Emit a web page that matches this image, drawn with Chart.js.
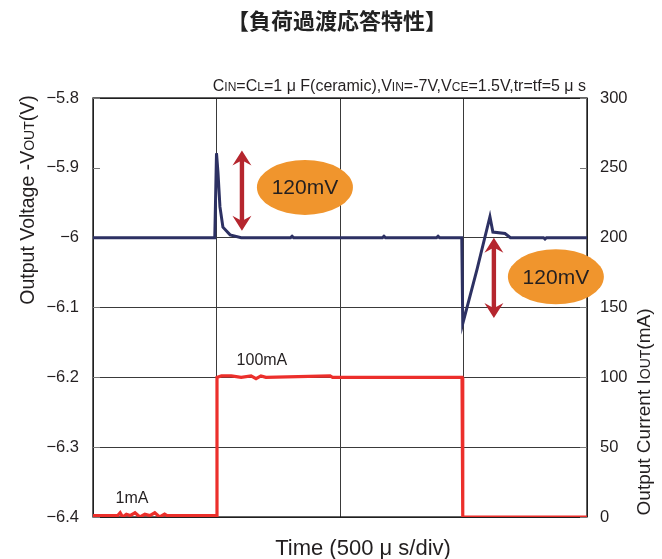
<!DOCTYPE html>
<html>
<head>
<meta charset="utf-8">
<script src="https://cdn.jsdelivr.net/npm/chart.js@4.4.1/dist/chart.umd.min.js"></script>
<style>
html, body { margin: 0; padding: 0; background: #fff; }
</style>
</head>
<body>
<canvas id="chart" width="662" height="559"></canvas>
<script>
// datos (tiempo en µs, 500 µs/div)
var voltTime   = [0, 493, 500, 506, 514, 526, 555, 600, 800, 806, 812, 1172, 1178, 1184, 1391, 1397, 1403, 1493, 1497, 1555, 1607, 1619, 1668, 1690, 1824, 1830, 1836, 2000];
var voltValues = [-6.0, -6.0, -5.879, -5.907, -5.956, -5.985, -5.996, -6.0, -6.0, -5.998, -6.0, -6.0, -5.998, -6.0, -6.0, -5.998, -6.0, -6.0, -6.123, -6.045, -5.97, -5.992, -5.994, -6.0, -6.0, -6.002, -6.0, -6.0];

var currTime   = [0, 100, 110, 120, 135, 150, 170, 190, 210, 230, 250, 270, 290, 300, 498, 502, 520, 560, 600, 640, 660, 680, 700, 960, 970, 1494, 1497, 2000];
var currValues = [1, 1, 3, 0, 2, 1, 3, 0, 2, 1, 3, 0, 2, 1, 1, 100, 101, 101, 100, 101, 99, 101, 100, 101, 100, 100, 0, 0];

var voltTicks = [-5.8, -5.9, -6.0, -6.1, -6.2, -6.3, -6.4];
var currTicks = [300, 250, 200, 150, 100, 50, 0];

var FONT = "'Liberation Sans', Arial, sans-serif";
var CJK = "'Noto Sans CJK JP', sans-serif";
var TXT = '#231f20';

function toPoints(xs, ys) {
    var pts = [];
    for (var i = 0; i < xs.length; i++) pts.push({ x: xs[i], y: ys[i] });
    return pts;
}

function fmtVolt(v) {
    var r = Math.round(v * 10) / 10;
    return String(r).replace('-', '\u2212');
}

// texto con subíndices (mismo renglón base, letra más pequeña)
function partFont(p, size) {
    return (p.sub ? Math.round(size * 0.72) : size) + 'px ' + FONT;
}
function richWidth(ctx, parts, size) {
    var w = 0;
    parts.forEach(function(p) {
        ctx.font = partFont(p, size);
        w += ctx.measureText(p.t).width;
    });
    return w;
}
function drawRich(ctx, parts, x, y, size, align) {
    var w = richWidth(ctx, parts, size);
    var cx = align === 'right' ? x - w : (align === 'center' ? x - w / 2 : x);
    ctx.textAlign = 'left';
    ctx.textBaseline = 'alphabetic';
    parts.forEach(function(p) {
        ctx.font = partFont(p, size);
        ctx.fillText(p.t, cx, y);
        cx += ctx.measureText(p.t).width;
    });
}

function drawArrow(ctx, x, top, bottom) {
    var hw = 9.5, hl = 15, sw = 2.2, notch = 11;
    ctx.beginPath();
    ctx.moveTo(x, top);
    ctx.lineTo(x + hw, top + hl);
    ctx.lineTo(x + sw, top + notch);
    ctx.lineTo(x + sw, bottom - notch);
    ctx.lineTo(x + hw, bottom - hl);
    ctx.lineTo(x, bottom);
    ctx.lineTo(x - hw, bottom - hl);
    ctx.lineTo(x - sw, bottom - notch);
    ctx.lineTo(x - sw, top + notch);
    ctx.lineTo(x - hw, top + hl);
    ctx.closePath();
    ctx.fillStyle = '#b5262e';
    ctx.fill();
}

function drawBubble(ctx, cx, cy, text) {
    ctx.beginPath();
    ctx.ellipse(cx, cy, 48, 27.5, 0, 0, Math.PI * 2);
    ctx.fillStyle = '#f0952d';
    ctx.fill();
    ctx.fillStyle = TXT;
    ctx.font = '21px ' + FONT;
    ctx.textAlign = 'center';
    ctx.textBaseline = 'middle';
    ctx.fillText(text, cx, cy + 1);
}

// marco y marcas interiores
var framePlugin = {
    id: 'frame',
    beforeDatasetsDraw: function(chart) {
        var ctx = chart.ctx, a = chart.chartArea, ys = chart.scales.y;
        ctx.save();
        ctx.strokeStyle = '#111';
        ctx.lineWidth = 1.3;
        ctx.strokeRect(a.left, a.top, a.right - a.left, a.bottom - a.top);
        ctx.strokeStyle = '#777';
        ctx.lineWidth = 1;
        voltTicks.forEach(function(v) {
            var py = Math.round(ys.getPixelForValue(v)) + 0.5;
            ctx.beginPath();
            ctx.moveTo(a.left, py); ctx.lineTo(a.left + 7, py);
            ctx.moveTo(a.right - 7, py); ctx.lineTo(a.right, py);
            ctx.stroke();
        });
        ctx.restore();
    }
};

// anotaciones y textos
var notesPlugin = {
    id: 'notes',
    afterDraw: function(chart) {
        var ctx = chart.ctx, xs = chart.scales.x, ys = chart.scales.y, y2 = chart.scales.y2;
        ctx.save();

        drawArrow(ctx, xs.getPixelForValue(603), ys.getPixelForValue(-5.875), ys.getPixelForValue(-5.99));
        drawArrow(ctx, xs.getPixelForValue(1623), ys.getPixelForValue(-6.0), ys.getPixelForValue(-6.115));
        drawBubble(ctx, xs.getPixelForValue(858), ys.getPixelForValue(-5.928), '120mV');
        drawBubble(ctx, xs.getPixelForValue(1874), ys.getPixelForValue(-6.056), '120mV');

        ctx.fillStyle = TXT;
        ctx.font = '16px ' + FONT;
        ctx.textAlign = 'center';
        ctx.textBaseline = 'middle';
        ctx.fillText('100mA', xs.getPixelForValue(684), y2.getPixelForValue(112));
        ctx.fillText('1mA', xs.getPixelForValue(158), y2.getPixelForValue(13.5));

        // título
        ctx.font = "bold 22px " + CJK;
        ctx.fillStyle = '#222';
        ctx.fillText('【負荷過渡応答特性】', 337, 21);

        // condiciones
        ctx.fillStyle = TXT;
        drawRich(ctx, [
            { t: 'C' }, { t: 'IN', sub: true }, { t: '=C' }, { t: 'L', sub: true },
            { t: '=1 \u03bc F(ceramic),V' }, { t: 'IN', sub: true }, { t: '=-7V,V' },
            { t: 'CE', sub: true }, { t: '=1.5V,tr=tf=5 \u03bc s' }
        ], 586, 91, 16, 'right');

        // eje X
        drawRich(ctx, [{ t: 'Time (500 \u03bc s/div)' }], 363, 555, 22, 'center');

        // eje izquierdo
        ctx.save();
        ctx.translate(34, 200);
        ctx.rotate(-Math.PI / 2);
        drawRich(ctx, [{ t: 'Output Voltage -V' }, { t: 'OUT', sub: true }, { t: '(V)' }], 0, 0, 19.5, 'center');
        ctx.restore();

        // eje derecho
        ctx.save();
        ctx.translate(650, 412);
        ctx.rotate(-Math.PI / 2);
        drawRich(ctx, [{ t: 'Output Current I' }, { t: 'OUT', sub: true }, { t: '(mA)' }], 0, 0, 19, 'center');
        ctx.restore();

        ctx.restore();
    }
};

var ctx = document.getElementById('chart').getContext('2d');
var chart = new Chart(ctx, {
    type: 'line',
    data: {
        datasets: [{
            label: 'Vout',
            data: toPoints(voltTime, voltValues),
            yAxisID: 'y',
            borderColor: '#2d3163',
            borderWidth: 3,
            pointRadius: 0,
            tension: 0
        }, {
            label: 'Iout',
            data: toPoints(currTime, currValues),
            yAxisID: 'y2',
            borderColor: '#ec2f2b',
            borderWidth: 3.2,
            pointRadius: 0,
            tension: 0
        }]
    },
    options: {
        responsive: false,
        animation: false,
        layout: { padding: { top: 98, bottom: 42, left: 0, right: 0 } },
        plugins: { legend: { display: false }, tooltip: { enabled: false } },
        scales: {
            x: {
                type: 'linear', min: 0, max: 2000,
                ticks: { display: false, stepSize: 500 },
                grid: { color: '#3a3a3a', drawTicks: false },
                border: { display: false },
                afterFit: function(s) { s.height = 0; }
            },
            y: {
                position: 'left', min: -6.4, max: -5.8,
                ticks: {
                    stepSize: 0.1, padding: 14, color: TXT,
                    font: { size: 16.5, family: FONT },
                    callback: function(v) { return fmtVolt(v); }
                },
                grid: {
                    drawTicks: false,
                    color: function(c) {
                        return Math.abs(c.tick.value + 5.9) < 1e-6 ? 'rgba(0,0,0,0)' : '#3a3a3a';
                    }
                },
                border: { display: false },
                afterFit: function(s) { s.width = 93; }
            },
            y2: {
                position: 'right', min: 0, max: 300,
                ticks: { stepSize: 50, padding: 13, color: TXT, font: { size: 16.5, family: FONT } },
                grid: { display: false, drawTicks: false },
                border: { display: false },
                afterFit: function(s) { s.width = 75; }
            }
        }
    },
    plugins: [framePlugin, notesPlugin]
});
</script>
</body>
</html>
